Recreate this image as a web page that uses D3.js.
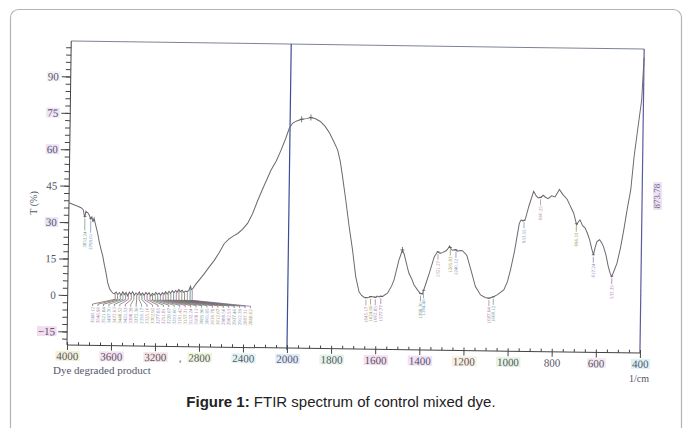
<!DOCTYPE html>
<html lang="en">
  <head>
    <meta charset="UTF-8" />
    <title>FTIR spectrum</title>
    <script src="https://cdn.jsdelivr.net/npm/d3@7"></script>
    <style>
      body { margin: 0; background: #fff; }
      .serif { font-family: "Liberation Serif", "DejaVu Serif", serif; }
    </style>
  </head>
  <body>
    <div class="chart"></div>
  </body>

  <script>
    // spectrum (wavenumber in 1/cm, transmittance in %)
    var wavenumber = [
      4000, 3960, 3920, 3890, 3870, 3855, 3845, 3820, 3800, 3790, 3780, 3770, 3755, 3735, 3719,
      3700, 3686, 3670, 3655, 3638, 3620, 3606, 3590, 3576, 3560, 3545, 3530, 3515, 3500, 3485,
      3470, 3455, 3440, 3425, 3410, 3395, 3380, 3365, 3350, 3335, 3320, 3305, 3290, 3275, 3260,
      3245, 3230, 3215, 3200, 3185, 3170, 3155, 3140, 3125, 3110, 3095, 3080, 3065, 3050, 3035,
      3020, 3005, 2990, 2975, 2960, 2945, 2930, 2915, 2900, 2885, 2875, 2865, 2840, 2800, 2761,
      2720, 2672, 2630, 2583, 2540, 2500, 2462, 2420, 2374, 2330, 2284, 2230, 2167, 2120, 2079,
      2040, 2006, 1988, 1970, 1948, 1925, 1906, 1885, 1863, 1840, 1820, 1800, 1783, 1770, 1759,
      1743, 1726, 1709, 1693, 1677, 1665, 1654, 1645, 1633, 1624, 1615, 1602, 1595, 1587, 1578,
      1570, 1548, 1530, 1519, 1498, 1490, 1483, 1475, 1468, 1460, 1452, 1440, 1428, 1410, 1398,
      1390, 1384, 1372, 1360, 1338, 1323, 1312, 1300, 1285, 1276, 1269, 1262, 1254, 1241, 1235,
      1222, 1211, 1191, 1171, 1150, 1126, 1105, 1088, 1070, 1051, 1021, 1005, 992, 975, 955,
      947, 938, 928, 913, 892, 880, 870, 858, 848, 838, 826, 810, 795, 775, 760,
      739, 725, 709, 695, 688, 680, 668, 656, 645, 635, 625, 617, 610, 602, 590,
      580, 572, 560, 549, 540, 533, 525, 510, 495, 481, 465, 452, 439, 421, 408,
      400
    ];
    var transmittance = [
      38.0, 37.3, 36.6, 36.0, 35.2, 32.0, 34.6, 33.6, 31.5, 32.3, 30.2, 31.8, 29.0, 25.5, 21.8,
      18.5, 16.2, 12.5, 9.4, 5.3, 2.8, 1.9, 1.0, 0.8, 1.5, 0.4, 1.3, 0.2, 1.6, 0.5,
      1.4, 0.0, 1.5, 0.6, 1.7, 0.3, 1.2, 0.5, 1.6, 0.4, 1.3, 0.2, 1.5, 0.6, 1.4,
      0.1, 1.2, 0.5, 1.6, 0.7, 1.3, 0.4, 1.5, 0.8, 1.9, 1.0, 2.1, 1.2, 2.4, 1.5,
      2.5, 1.8, 2.9, 2.0, 2.6, 1.7, 2.3, 2.0, 2.6, 4.3, 2.9, 3.2, 5.0, 7.3, 9.6,
      12.2, 15.1, 18.2, 22.1, 24.0, 25.3, 26.3, 28.0, 30.5, 34.5, 40.1, 46.0, 52.6, 56.5, 60.9,
      65.5, 70.0, 72.1, 73.0, 73.7, 74.0, 74.5, 74.0, 72.9, 70.8, 68.1, 64.5, 61.3, 56.5, 50.3,
      40.7, 29.8, 20.1, 9.2, 3.0, 1.5, 0.8, 0.6, 0.7, 1.1, 1.0, 0.8, 1.3, 1.0, 1.3,
      1.2, 2.6, 5.5, 8.1, 16.4, 18.5, 20.5, 18.8, 16.4, 13.5, 10.9, 8.8, 6.1, 3.8, 2.6,
      2.4, 4.1, 7.5, 11.0, 17.9, 20.0, 19.3, 19.7, 20.4, 21.4, 22.4, 21.0, 20.6, 20.9, 20.3,
      20.6, 20.5, 18.7, 12.6, 5.8, 2.4, 1.4, 1.1, 1.6, 2.5, 4.6, 8.0, 12.9, 20.5, 32.1,
      33.5, 33.0, 33.8, 39.1, 45.4, 43.5, 42.7, 43.0, 43.8, 43.0, 42.4, 43.6, 43.2, 46.3, 44.3,
      42.2, 39.5, 36.6, 31.8, 33.0, 33.9, 31.5, 30.5, 28.2, 25.7, 22.0, 19.5, 22.5, 25.0, 25.8,
      24.5, 23.0, 19.5, 14.8, 12.0, 10.7, 12.5, 16.2, 22.5, 30.0, 39.6, 46.5, 60.2, 74.0, 83.7,
      101.0
    ];

    // picked peaks in the O-H / C-H region (labels fan out below)
    var clusterPeaks = [
      3568.12, 3546.90, 3521.84, 3497.70, 3472.63, 3448.52, 3421.53, 3398.39, 3372.36, 3350.17,
      3325.10, 3302.92, 3277.85, 3251.81, 3228.67, 3203.60, 3181.42, 3157.31, 3132.24, 3108.13,
      3085.96, 3061.85, 3036.78, 3012.67, 2988.56, 2962.53, 2937.46, 2912.39, 2887.31, 2868.02
    ];
    // other picked peaks
    var peakWn = [
      3853.24, 3799.61, 1645.17, 1624.06, 1602.85, 1577.77, 1398.30, 1384.46,
      1321.27, 1265.83, 1240.12, 1087.64, 1068.12, 933.55, 860.25, 696.33, 617.24, 532.35
    ];
    var markerWn = [1948, 1906, 1483];

    var yTicks = [-15, 0, 15, 30, 45, 60, 75, 90];
    var xTicks = [4000, 3600, 3200, 2800, 2400, 2000, 1800, 1600, 1400, 1200, 1000, 800, 600, 400];

    // pastel marker highlights on the scanned labels
    var tint = {
      "y90": "#f5f1f9", "y75": "#f0e4f6", "y60": "#efe3f7", "y30": "#ebe6f7", "y-15": "#f4dcf0",
      "x4000": "#f4f2d6", "x3600": "#f6e2ee", "x3200": "#f8e6e6", "x2800": "#eef5da",
      "x2400": "#e3f4f4", "x2000": "#e0ebf9", "x1800": "#e3f4e7", "x1600": "#f5e0ee",
      "x1400": "#f1e2f6", "x1200": "#f8eedd", "x1000": "#e6f5e3", "x600": "#f6eaf2", "x400": "#dcf3f6"
    };
    var labelInk = ["#8f86b8", "#b079b0", "#6fa08c", "#7d9cc2", "#b58e9c", "#9a9a5a"];
    var leaderInk = ["#8b4a4a", "#4a7a4a", "#6a4a8a", "#7a7a3a", "#3a6a7a", "#8a5a8a"];

    var W = 573, H = 304;
    var ox = 67, oy = 41;

    var svg = d3.select(".chart").append("svg")
      .attr("width", 683).attr("height", 428);

    // page card
    svg.append("rect")
      .attr("x", 10.5).attr("y", 9.5)
      .attr("width", 671).attr("height", 440)
      .attr("rx", 8)
      .attr("fill", "none")
      .attr("stroke", "#b4b4b4")
      .attr("stroke-width", 1.2);

    var x = d3.scaleLinear().domain([4000, 2000, 400]).range([0, 220, W]);
    var y = d3.scaleLinear().domain([-20.6, 104.6]).range([H, 0]);

    // the scan is a little tilted
    var g = svg.append("g")
      .attr("transform", "rotate(0.8," + ox + "," + (oy + H) + ") translate(" + ox + "," + oy + ")");

    // frame
    g.append("line").attr("x1", 0).attr("y1", 0).attr("x2", W).attr("y2", 0)
      .attr("stroke", "#7c8494").attr("stroke-width", 1);
    g.append("line").attr("x1", W).attr("y1", 0).attr("x2", W).attr("y2", H)
      .attr("stroke", "#5b5ba0").attr("stroke-width", 1.2);
    g.append("line").attr("x1", x(2000)).attr("y1", 0).attr("x2", x(2000)).attr("y2", H + 2)
      .attr("stroke", "#3c4c98").attr("stroke-width", 1.2);

    var serif = '"Liberation Serif", "DejaVu Serif", serif';

    // y axis
    var minorY = d3.range(-18, 104, 3);
    g.append("g").call(d3.axisLeft(y).tickValues(minorY).tickSize(5).tickFormat(""))
      .call(function (s) { s.select(".domain").remove(); })
      .selectAll("line").attr("stroke", "#444");
    var yAx = g.append("g")
      .call(d3.axisLeft(y).tickValues(yTicks).tickSize(9).tickPadding(3).tickFormat(d3.format("d")))
      .attr("font-family", serif).attr("font-size", 11);
    yAx.select(".domain").attr("stroke", "#444").attr("d", "M0,0V" + H);
    yAx.selectAll("line").attr("stroke", "#444");
    yAx.selectAll("text").attr("fill", "#55556a");

    // x axis
    var minorX = d3.range(4000, 2000, -100).concat(d3.range(2000, 399, -50));
    g.append("g").attr("transform", "translate(0," + H + ")")
      .call(d3.axisTop(x).tickValues(minorX).tickSize(3).tickFormat(""))
      .call(function (s) { s.select(".domain").remove(); })
      .selectAll("line").attr("stroke", "#444");
    var xAx = g.append("g").attr("transform", "translate(0," + H + ")")
      .call(d3.axisBottom(x).tickValues(xTicks).tickSize(5).tickPadding(2).tickFormat(d3.format("d")))
      .attr("font-family", serif).attr("font-size", 11);
    xAx.select(".domain").attr("stroke", "#444").attr("d", "M0,0H" + W);
    xAx.selectAll("line").attr("stroke", "#444");
    xAx.selectAll("text").attr("fill", "#55556a");

    function highlight(axisSel, prefix) {
      axisSel.selectAll(".tick").each(function (d) {
        var c = tint[prefix + d];
        if (!c) return;
        var t = d3.select(this).select("text");
        var b = t.node().getBBox();
        d3.select(this).insert("rect", "text")
          .attr("x", b.x - 1).attr("y", b.y + 1).attr("width", b.width + 2).attr("height", b.height - 2)
          .attr("fill", c);
      });
    }
    highlight(yAx, "y");
    highlight(xAx, "x");

    // the stray comma printed before 2800
    g.append("text")
      .attr("x", x(2800) - 20).attr("y", H + 15)
      .attr("font-family", serif).attr("font-size", 11)
      .attr("fill", "#55556a").text(",");

    // spectrum
    var pts = wavenumber.map(function (w, i) { return [w, transmittance[i]]; });
    var line = d3.line().x(function (d) { return x(d[0]); }).y(function (d) { return y(d[1]); });
    g.append("path").datum(pts)
      .attr("fill", "none").attr("stroke", "#6c6870").attr("stroke-width", 1)
      .attr("d", line);

    var tAt = function (w) {
      for (var i = 1; i < wavenumber.length; i++) {
        if (wavenumber[i] <= w) {
          var a = wavenumber[i - 1], b = wavenumber[i];
          var f = (a - w) / (a - b);
          return transmittance[i - 1] + f * (transmittance[i] - transmittance[i - 1]);
        }
      }
      return transmittance[transmittance.length - 1];
    };
    var fmt = d3.format(".2f");

    // peak markers
    markerWn.forEach(function (w) {
      var px = x(w), py = y(tAt(w));
      g.append("path").attr("d", "M" + (px - 2) + "," + py + "h4M" + px + "," + (py - 3) + "v6")
        .attr("stroke", "#5a5a5a").attr("stroke-width", 0.8);
    });

    // fan of labels under the broad band
    var fanX0 = 25, fanX1 = 183;
    clusterPeaks.forEach(function (w, i) {
      var px = x(w), py = y(tAt(w));
      var lx = fanX0 + (fanX1 - fanX0) * i / (clusterPeaks.length - 1);
      var ink = leaderInk[i % leaderInk.length];
      g.append("path")
        .attr("d", "M" + px + "," + (py + 1) + "V" + y(-1.5) + "L" + lx + "," + y(-3.6) + "V" + y(-4.4))
        .attr("fill", "none").attr("stroke", ink).attr("stroke-width", 0.7);
      g.append("text")
        .attr("transform", "translate(" + (lx + 1.8) + "," + y(-4.8) + ") rotate(-90)")
        .attr("text-anchor", "end")
        .attr("font-family", serif).attr("font-size", 5)
        .attr("fill", labelInk[i % labelInk.length])
        .text(fmt(w));
    });

    // single peak labels
    peakWn.forEach(function (w, i) {
      var px = x(w), py = y(tAt(w));
      var lead = w > 3000 ? 14 : 8;
      var ink = labelInk[(i + 2) % labelInk.length];
      g.append("line").attr("x1", px).attr("y1", py + 2).attr("x2", px).attr("y2", py + lead)
        .attr("stroke", ink).attr("stroke-width", 0.8);
      g.append("path").attr("d", "M" + (px - 1.5) + "," + py + "h3")
        .attr("stroke", "#5a5a5a").attr("stroke-width", 0.8);
      g.append("text")
        .attr("transform", "translate(" + (px + 1.8) + "," + (py + lead + 1) + ") rotate(-90)")
        .attr("text-anchor", "end")
        .attr("font-family", serif).attr("font-size", 5)
        .attr("fill", ink)
        .text(fmt(w));
    });

    // axis titles and notes
    svg.append("text")
      .attr("transform", "translate(37,203) rotate(-90)")
      .attr("text-anchor", "middle")
      .attr("font-family", serif).attr("font-size", 10)
      .attr("fill", "#55556a")
      .text("T (%)");

    svg.append("text")
      .attr("x", 53).attr("y", 374)
      .attr("font-family", serif).attr("font-size", 11)
      .attr("fill", "#55556a")
      .text("Dye degraded product");

    svg.append("text")
      .attr("x", 629).attr("y", 382)
      .attr("font-family", serif).attr("font-size", 10)
      .attr("fill", "#55556a")
      .text("1/cm");

    var side = svg.append("g").attr("transform", "translate(660,196) rotate(-90)");
    side.append("rect").attr("x", -14).attr("y", -7).attr("width", 28).attr("height", 9)
      .attr("fill", "#f0e2f5");
    side.append("text")
      .attr("text-anchor", "middle")
      .attr("font-family", serif).attr("font-size", 9)
      .attr("fill", "#6a6a80")
      .text("873.78");

    var cap = svg.append("text")
      .attr("x", 341).attr("y", 407)
      .attr("text-anchor", "middle")
      .attr("font-family", "'Liberation Sans', Arial, sans-serif")
      .attr("font-size", 15).attr("fill", "#222");
    cap.append("tspan").attr("font-weight", "bold").text("Figure 1:");
    cap.append("tspan").text(" FTIR spectrum of control mixed dye.");
  </script>
</html>
